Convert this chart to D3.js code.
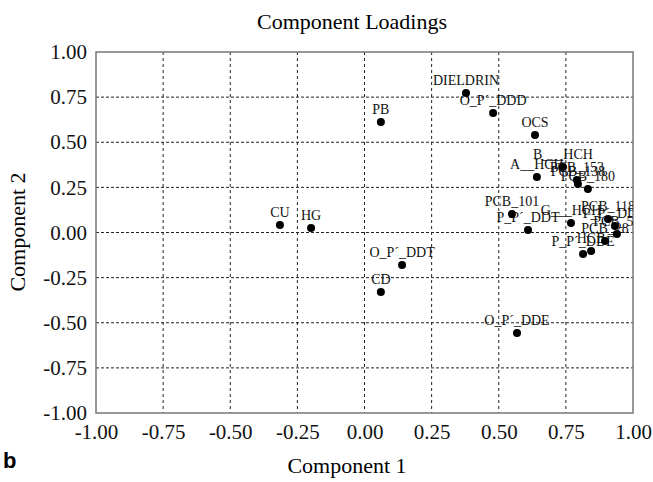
<!DOCTYPE html>
<html>
<head>
<meta charset="utf-8">
<script src="https://cdn.jsdelivr.net/npm/d3@7"></script>
<style>
  body { margin: 0; background: #fff; }
  svg { display: block; }
  svg text { font-family: "Liberation Serif", "Times New Roman", serif; }
</style>
</head>
<body>
<svg width="653" height="482"></svg>
<script>
// loadings
const names = ["CU", "HG", "PB", "O_P´_DDT", "CD", "O_P´_DDE", "DIELDRIN", "O_P´_DDD", "OCS",
  "A__HCH", "B___HCH", "PCB_153", "PCB_138", "PCB_180", "PCB_101", "P_P´_DDT", "G___HCH",
  "PCB_118", "P_P´_DDD", "PCB_52", "PCB_28", "HCB", "P_P´_DDE"];
const comp1 = [-0.315, -0.199, 0.061, 0.140, 0.061, 0.568, 0.378, 0.479, 0.635,
  0.642, 0.739, 0.791, 0.795, 0.832, 0.549, 0.609, 0.769,
  0.907, 0.933, 0.940, 0.896, 0.844, 0.814];
const comp2 = [0.042, 0.025, 0.612, -0.180, -0.330, -0.557, 0.773, 0.662, 0.540,
  0.307, 0.363, 0.291, 0.269, 0.241, 0.102, 0.014, 0.053,
  0.075, 0.036, -0.008, -0.047, -0.102, -0.119];
const ticks = [-1, -0.75, -0.5, -0.25, 0, 0.25, 0.5, 0.75, 1];

const data = names.map((n, i) => ({ name: n, x: comp1[i], y: comp2[i] }));

const m = { left: 96, right: 633, top: 52, bottom: 413 };
const svg = d3.select("svg");

const x = d3.scaleLinear().domain([-1, 1]).range([m.left, m.right]);
const y = d3.scaleLinear().domain([-1, 1]).range([m.bottom, m.top]);

svg.append("defs").append("clipPath").attr("id", "plot")
  .append("rect")
  .attr("x", m.left).attr("y", m.top)
  .attr("width", m.right - m.left).attr("height", m.bottom - m.top);

// grid
const inner = ticks.slice(1, -1);
svg.append("g").selectAll("line").data(inner).join("line")
  .attr("x1", d => x(d)).attr("x2", d => x(d))
  .attr("y1", m.top).attr("y2", m.bottom)
  .attr("stroke", "#222").attr("stroke-width", 1)
  .attr("stroke-dasharray", "3,3");
svg.append("g").selectAll("line").data(inner).join("line")
  .attr("y1", d => y(d)).attr("y2", d => y(d))
  .attr("x1", m.left).attr("x2", m.right)
  .attr("stroke", "#222").attr("stroke-width", 1)
  .attr("stroke-dasharray", "3,2");

// frame
svg.append("rect")
  .attr("x", m.left).attr("y", m.top)
  .attr("width", m.right - m.left).attr("height", m.bottom - m.top)
  .attr("fill", "none").attr("stroke", "#777").attr("stroke-width", 1.5);

// axes (plain hyphen minus like the original)
const fmt = d => d.toFixed(2);
const xAxis = svg.append("g")
  .attr("transform", `translate(0,${m.bottom})`)
  .call(d3.axisBottom(x).tickValues(ticks).tickFormat(fmt).tickSize(0).tickPadding(11));
const yAxis = svg.append("g")
  .attr("transform", `translate(${m.left},0)`)
  .call(d3.axisLeft(y).tickValues(ticks).tickFormat(fmt).tickSize(0).tickPadding(9));
[xAxis, yAxis].forEach(a => {
  a.attr("font-family", null).attr("font-size", null);
  a.select(".domain").remove();
  a.selectAll("text")
    .attr("font-size", 21)
    .attr("fill", "#111");
});

// labels and points
const pts = svg.append("g").attr("clip-path", "url(#plot)");
pts.selectAll("text").data(data).join("text")
  .attr("x", d => x(d.x))
  .attr("y", d => y(d.y) - 8)
  .attr("text-anchor", "middle")
  .attr("font-size", 14)
  .attr("fill", "#111")
  .text(d => d.name);
pts.selectAll("circle").data(data).join("circle")
  .attr("cx", d => x(d.x))
  .attr("cy", d => y(d.y))
  .attr("r", 4)
  .attr("fill", "#000");

// titles
svg.append("text")
  .attr("x", 352).attr("y", 29)
  .attr("text-anchor", "middle")
  .attr("font-size", 22)
  .text("Component Loadings");
svg.append("text")
  .attr("x", 347).attr("y", 473)
  .attr("text-anchor", "middle")
  .attr("font-size", 22)
  .text("Component 1");
svg.append("text")
  .attr("transform", "translate(25,232) rotate(-90)")
  .attr("text-anchor", "middle")
  .attr("font-size", 22)
  .text("Component 2");
svg.append("text")
  .attr("x", 3).attr("y", 468)
  .style("font-family", "'Liberation Sans', Arial, sans-serif")
  .style("font-weight", "bold")
  .attr("font-size", 22)
  .text("b");
</script>
</body>
</html>
